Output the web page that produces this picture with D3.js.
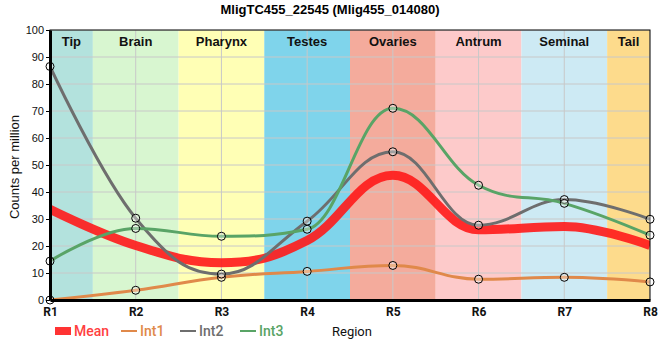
<!DOCTYPE html>
<html><head><meta charset="utf-8">
<script src="https://cdn.jsdelivr.net/npm/d3@7"></script>
<style>body{margin:0;background:#fff}svg{display:block}</style>
</head><body><svg id="c" width="660" height="360"></svg>
<script>
const title = "MligTC455_22545 (Mlig455_014080)";
const regions = ["R1","R2","R3","R4","R5","R6","R7","R8"];
const tissues = ["Tip","Brain","Pharynx","Testes","Ovaries","Antrum","Seminal","Tail"];
const tissueColors = ["#b3e2dd","#d8f6d0","#ffffb5","#7fd4eb","#f4ab9c","#fdcaca","#cdeaf4","#fddb8c"];
const yTicks = [0,10,20,30,40,50,60,70,80,90,100];
const mean = [33.6, 20.2, 13.8, 22.0, 46.2, 26.0, 27.2, 20.2];
const int1 = [0, 3.6, 8.4, 10.6, 12.8, 7.7, 8.4, 6.7];
const int2 = [86.5, 30.3, 9.6, 29.2, 54.9, 27.7, 37.2, 29.9];
const int3 = [14.4, 26.5, 23.6, 26.2, 71.0, 42.5, 35.8, 24.0];
const series = [
  {name:"Int1", values:int1, color:"#e0894a", width:3},
  {name:"Int2", values:int2, color:"#6e6e6e", width:3},
  {name:"Int3", values:int3, color:"#59a466", width:3}
];

// custom d3 curve: spline with 0.4-step handles, no false extremes
function SmoothSpline(context){ this._context = context; }
SmoothSpline.prototype = {
  areaStart(){}, areaEnd(){},
  lineStart(){ this._pts = []; },
  point(x,y){ this._pts.push([+x,+y]); },
  lineEnd(){
    const p = this._pts, c = this._context, s = 1.5, den = s + 1;
    if (!p.length) return;
    c.moveTo(p[0][0], p[0][1]);
    let prevR = null;
    for (let i = 1; i < p.length; i++) {
      const [px, py] = p[i];
      let lx = px, ly = py, rx = null, ry = null;
      if (i < p.length - 1) {
        const [ax, ay] = p[i-1], [bx, by] = p[i+1];
        lx = (s*px + ax)/den; ly = (s*py + ay)/den;
        rx = (s*px + bx)/den; ry = (s*py + by)/den;
        let corr = 0;
        if (rx !== lx) corr = ((ry - ly)*(rx - px))/(rx - lx) + py - ry;
        ly += corr; ry += corr;
        if (ly > ay && ly > py) { ly = Math.max(ay, py); ry = 2*py - ly; }
        else if (ly < ay && ly < py) { ly = Math.min(ay, py); ry = 2*py - ly; }
        if (ry > by && ry > py) { ry = Math.max(by, py); ly = 2*py - ry; }
        else if (ry < by && ry < py) { ry = Math.min(by, py); ly = 2*py - ry; }
      }
      const c1 = prevR || p[i-1];
      c.bezierCurveTo(c1[0], c1[1], lx, ly, px, py);
      prevR = rx === null ? null : [rx, ry];
    }
  }
};
const curveSmooth = ctx => new SmoothSpline(ctx);

const svg = d3.select("#c");
const L=50, R=650, T=30, B=300;
const x = d3.scalePoint().domain(regions).range([L,R]);
const y = d3.scaleLinear().domain([0,100]).range([B,T]);
const step = x.step();

svg.append("defs").append("clipPath").attr("id","pc")
  .append("rect").attr("x",L).attr("y",T).attr("width",R-L).attr("height",B-T);

const g = svg.append("g").attr("clip-path","url(#pc)");
g.selectAll("rect.band").data(tissues).join("rect")
  .attr("x",(d,i)=>x(regions[i])-step/2).attr("y",T)
  .attr("width",step).attr("height",B-T)
  .attr("fill",(d,i)=>tissueColors[i]);
g.selectAll("line.h").data(yTicks).join("line")
  .attr("x1",L).attr("x2",R).attr("y1",d=>y(d)).attr("y2",d=>y(d))
  .attr("stroke","#c8c8c8").attr("stroke-width",1);
g.selectAll("line.v").data(regions).join("line")
  .attr("x1",d=>x(d)).attr("x2",d=>x(d)).attr("y1",T).attr("y2",B)
  .attr("stroke","#c8c8c8").attr("stroke-width",1);

const line = d3.line().x((d,i)=>x(regions[i])).y(d=>y(d)).curve(curveSmooth);
g.append("path").attr("d",line(mean)).attr("fill","none")
  .attr("stroke","#ff1a1a").attr("stroke-opacity",0.9).attr("stroke-width",9);
series.forEach(s=>{
  g.append("path").attr("d",line(s.values)).attr("fill","none")
    .attr("stroke",s.color).attr("stroke-width",s.width);
});

svg.selectAll("text.tis").data(tissues).join("text")
  .attr("x",(d,i)=>{const a=Math.max(L,x(regions[i])-step/2), b=Math.min(R,x(regions[i])+step/2); return (a+b)/2;})
  .attr("y",46).attr("text-anchor","middle")
  .attr("font-family","Liberation Sans, Arial, sans-serif").attr("font-weight","bold").attr("font-size",13)
  .attr("fill","#111").text(d=>d);

svg.append("rect").attr("x",L).attr("y",T).attr("width",R-L).attr("height",B-T)
  .attr("fill","none").attr("stroke","#000").attr("stroke-width",1);

series.forEach(s=>{
  svg.selectAll(null).data(s.values).join("circle")
    .attr("cx",(d,i)=>x(regions[i])).attr("cy",d=>y(d)).attr("r",4)
    .attr("fill","#ffffff").attr("fill-opacity",0.35)
    .attr("stroke","#000").attr("stroke-width",1);
});

const ya = svg.append("g").attr("transform",`translate(${L},0)`)
  .call(d3.axisLeft(y).tickValues(yTicks).tickSize(4).tickSizeOuter(0).tickPadding(2));
ya.select(".domain").attr("stroke","#000").attr("stroke-width",3);
ya.selectAll("text").attr("font-family","Liberation Sans, Arial, sans-serif").attr("font-size",11).attr("fill","#111");
const xa = svg.append("g").attr("transform",`translate(0,${B})`)
  .call(d3.axisBottom(x).tickSize(0).tickPadding(7));
xa.select(".domain").attr("stroke","#000").attr("stroke-width",3);
xa.selectAll("text").attr("font-family","Roboto, Liberation Sans, sans-serif").attr("font-weight","bold").attr("font-size",12).attr("fill","#111");

svg.append("text").attr("x",330).attr("y",14).attr("text-anchor","middle")
  .attr("font-family","Liberation Sans, Arial, sans-serif").attr("font-weight","bold").attr("font-size",13)
  .text(title);
svg.append("text").attr("transform","translate(19,167) rotate(-90)").attr("text-anchor","middle")
  .attr("font-family","Liberation Sans, Arial, sans-serif").attr("font-size",13).attr("fill","#111")
  .text("Counts per million");

const lg = svg.append("g").attr("font-family","Roboto, Liberation Sans, sans-serif").attr("font-size",14);
lg.append("rect").attr("x",55).attr("y",327).attr("width",16).attr("height",8).attr("fill","#ff3333");
lg.append("text").attr("x",74).attr("y",336).attr("fill","#ff4040").attr("font-weight",500).text("Mean");
const lx = [121,180,240];
series.forEach((s,i)=>{
  lg.append("line").attr("x1",lx[i]).attr("x2",lx[i]+16).attr("y1",331).attr("y2",331)
    .attr("stroke",s.color).attr("stroke-width",2);
  lg.append("text").attr("x",lx[i]+19).attr("y",336).attr("fill",s.color).attr("font-weight",500).text(s.name);
});
svg.append("text").attr("x",332).attr("y",336).attr("font-family","Roboto, Liberation Sans, sans-serif")
  .attr("font-size",13).attr("fill","#111").text("Region");
</script></body></html>
